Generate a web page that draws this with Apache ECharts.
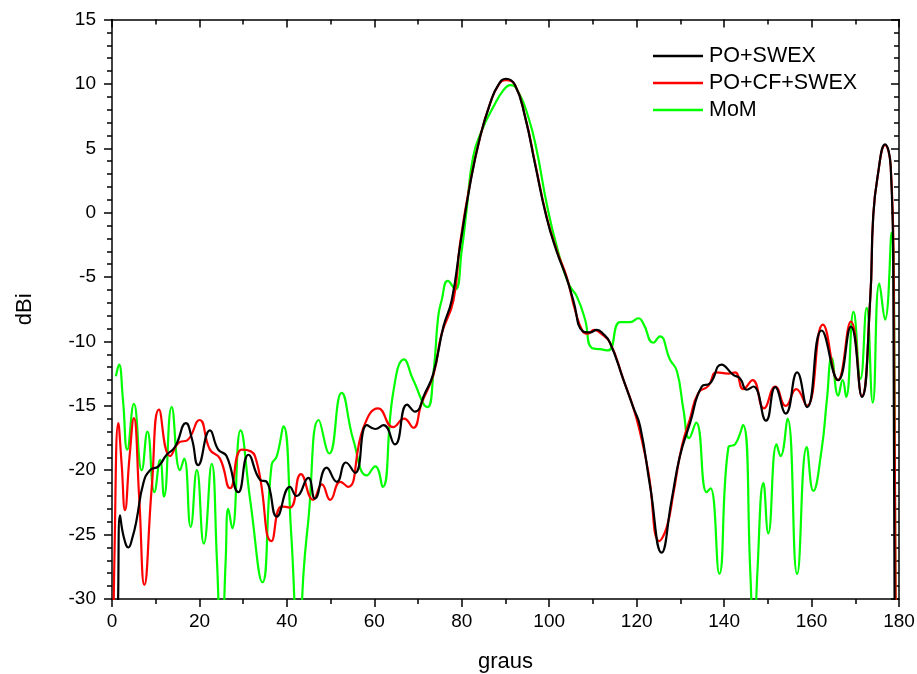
<!DOCTYPE html>
<html><head><meta charset="utf-8">
<script src="https://cdn.jsdelivr.net/npm/echarts@6/dist/echarts.min.js"></script>
<style>html,body{margin:0;padding:0;background:#fff}#c{width:917px;height:674px}</style>
</head><body><div id="c"></div>
<script>
const seriesNames = ['PO+SWEX', 'PO+CF+SWEX', 'MoM'];
const xTicks = [0, 20, 40, 60, 80, 100, 120, 140, 160, 180];
const yTicks = [-30, -25, -20, -15, -10, -5, 0, 5, 10, 15];

const poSwex = [[1.0,-40],[1.4,-30],[1.83,-23.5],[2.7,-25.2],[3.74,-26.0],[4.7,-25.2],[5.6,-23.9],[7.17,-21.0],[8.7,-20.0],[10.6,-19.7],[12.5,-18.8],[14.4,-18.2],[16.9,-16.35],[18.3,-17.6],[19.7,-19.6],[22.4,-16.9],[24.3,-18.4],[26.2,-18.9],[28.9,-21.7],[31.2,-18.8],[33.9,-20.75],[35.4,-20.9],[37.7,-23.6],[40.7,-21.3],[42.2,-22.0],[44.9,-20.6],[46.4,-22.2],[49.1,-19.8],[51.4,-20.9],[53.5,-19.4],[55.6,-20.2],[58.3,-16.5],[60.2,-16.8],[62.1,-16.5],[64.7,-18.0],[67.5,-14.9],[69.3,-15.45],[71.6,-14.0],[73.5,-12.5],[75.8,-8.85],[77.7,-6.8],[79.6,-2.6],[81.9,2.2],[84.2,5.9],[86.5,8.5],[88.4,9.95],[90.1,10.4],[92.2,9.9],[94.5,7.4],[96.8,3.7],[99.4,-0.4],[101.7,-3.0],[104.0,-5.1],[105.5,-6.8],[107.65,-9.2],[109.3,-9.3],[110.9,-9.1],[112.3,-9.4],[113.9,-10.1],[117.0,-13.0],[119.2,-15.1],[120.8,-16.6],[123.1,-21.3],[125.7,-26.4],[128.0,-22.3],[129.9,-18.9],[132.2,-16.35],[134.9,-13.5],[136.8,-13.25],[139.4,-11.8],[142.1,-12.6],[143.6,-12.85],[145.2,-13.75],[146.7,-13.5],[149.6,-16.15],[151.7,-13.55],[154.1,-15.6],[156.7,-12.4],[159.0,-15.1],[162.3,-9.15],[166.1,-13.0],[169.0,-8.85],[171.5,-14.3],[173.4,-6.8],[174.1,-0.3],[175.1,2.8],[176.8,5.3],[178.1,3.6],[178.7,-5],[179.1,-40]];

const poCfSwex = [[0.1,-40],[0.6,-26],[1.45,-16.35],[2.2,-19.5],[2.97,-23.1],[4.0,-19],[5.0,-15.96],[6.2,-22],[7.4,-28.9],[9.1,-21.3],[10.75,-15.3],[13.3,-18.9],[15.55,-17.8],[17.1,-17.7],[20.0,-16.1],[22.4,-18.4],[24.7,-19.1],[27.0,-21.4],[29.7,-18.4],[32.7,-18.9],[36.5,-25.5],[38.8,-22.8],[40.7,-22.9],[43.2,-20.3],[46.0,-22.3],[48.0,-21.1],[49.9,-22.3],[52.2,-20.9],[54.0,-21.3],[57.5,-16.7],[60.9,-15.2],[64.3,-16.65],[66.8,-16.0],[68.9,-16.7],[70.8,-14.8],[73.5,-12.6],[75.4,-9.4],[78.1,-6.8],[79.6,-2.4],[81.9,2.3],[84.2,5.9],[86.5,8.5],[88.4,9.9],[90.1,10.3],[92.2,9.9],[94.5,7.45],[96.8,3.8],[99.4,-0.3],[101.7,-2.9],[104.0,-5.0],[105.9,-7.55],[107.65,-9.2],[108.8,-9.4],[110.3,-9.1],[111.5,-9.3],[113.9,-10.1],[117.0,-13.0],[119.2,-15.1],[120.8,-17.1],[122.7,-20.2],[125.2,-25.5],[126.9,-24.4],[128.4,-21.8],[130.3,-18.2],[132.2,-16.0],[134.1,-14.0],[136.4,-13.45],[138.3,-12.4],[141.0,-12.5],[142.5,-12.4],[144.4,-13.7],[146.5,-13.0],[149.1,-15.2],[151.7,-13.5],[154.1,-15.0],[156.5,-13.7],[158.9,-15.0],[162.6,-8.7],[166.0,-13.0],[169.0,-8.45],[171.5,-14.25],[173.4,-6.8],[174.1,-0.3],[175.1,2.8],[176.8,5.25],[178.1,3.6],[178.8,-5],[179.4,-40]];

const mom = [[0.9,-12.7],[1.6,-11.8],[2.5,-14.5],[3.5,-18.4],[5.0,-14.85],[6.8,-20.0],[8.1,-17.0],[9.7,-21.7],[11.0,-19.2],[11.9,-22.05],[13.65,-15.1],[15.55,-20.0],[16.5,-19.1],[18.0,-24.4],[19.4,-20.0],[21.0,-25.7],[22.8,-19.5],[24.0,-27],[25.0,-35],[26.0,-27],[26.6,-23.0],[27.5,-24.5],[29.4,-16.9],[31.6,-22.3],[34.4,-28.7],[36.5,-19.6],[37.7,-18.9],[39.2,-16.6],[41.0,-25],[42.7,-35],[43.8,-28],[44.9,-23.9],[47.3,-16.1],[49.7,-18.7],[52.5,-14.0],[55.2,-17.65],[58.3,-20.4],[60.2,-19.7],[61.9,-21.3],[64.3,-14.0],[66.8,-11.4],[68.9,-13.0],[72.1,-15.1],[73.5,-12.5],[74.6,-8.1],[75.4,-6.8],[76.8,-5.3],[78.5,-5.95],[80.0,-2.9],[81.1,0.2],[82.6,4.35],[84.6,6.4],[87.2,8.2],[89.5,9.5],[91.2,9.9],[92.9,9.4],[95.2,7.45],[97.1,4.9],[99.4,0.73],[101.7,-2.6],[104.4,-5.5],[106.3,-6.5],[108.2,-8.3],[109.7,-10.5],[111.6,-10.6],[113.5,-10.7],[116.2,-8.5],[118.5,-8.5],[120.4,-8.2],[121.5,-8.6],[123.8,-10.1],[125.3,-9.6],[127.6,-11.4],[129.2,-12.3],[130.7,-15.3],[132.0,-17.5],[133.6,-16.3],[136.0,-21.7],[136.9,-21.4],[138.9,-28.05],[141.0,-18.2],[142.5,-18.0],[144.3,-16.5],[146.0,-28],[146.8,-35],[147.6,-28],[149.0,-21.0],[150.1,-24.9],[152.0,-18.0],[152.9,-18.9],[154.5,-16.0],[156.7,-28.05],[158.9,-18.2],[160.4,-21.6],[162.3,-18.4],[163.5,-14.55],[164.6,-11.3],[166.1,-14.2],[167.1,-13.0],[167.9,-14.3],[169.6,-7.7],[171.2,-12.9],[172.6,-7.4],[174.0,-14.75],[175.5,-5.5],[176.8,-8.3],[178.3,-1.55],[179.0,-15],[179.3,-40]];

const colors = ['#000000', '#ff0000', '#00ff00'];
const FONT = 'Liberation Sans, Arial, sans-serif';

const chart = echarts.init(document.getElementById('c'), null, {renderer: 'canvas'});
const axisLineStyle = {color: '#000', width: 1.5};
const frameTick = (inside) => ({show: true, inside: inside, length: 8, lineStyle: {color: '#000', width: 1.5}});

chart.setOption({
  animation: false,
  backgroundColor: '#fff',
  grid: {left: 112, right: 18, top: 19.5, bottom: 75, containLabel: false, outerBoundsMode: 'none'},
  legend: {
    data: seriesNames.map(n => ({name: n, icon: 'rect'})), orient: 'vertical', left: 648, top: 40,
    itemWidth: 50, itemHeight: 2.5, itemGap: 5,
    textStyle: {fontSize: 21.5, fontFamily: FONT, color: '#000', lineHeight: 21, padding: [0, 0, 0, 1]}
  },
  xAxis: [{
    type: 'value', min: xTicks[0], max: xTicks[xTicks.length - 1], interval: 20,
    position: 'bottom',
    axisLine: {show: true, onZero: false, lineStyle: axisLineStyle},
    axisTick: frameTick(false),
    minorTick: {show: true, splitNumber: 2, length: 5, lineStyle: {color: '#000', width: 1.5}},
    axisLabel: {fontSize: 19, fontFamily: FONT, color: '#000', margin: 13},
    splitLine: {show: false},
    name: 'graus', nameLocation: 'middle', nameGap: 52,
    nameTextStyle: {fontSize: 22, fontFamily: FONT, color: '#000'}
  }, {
    type: 'value', min: 0, max: 180, interval: 20, position: 'top',
    axisLine: {show: true, onZero: false, lineStyle: axisLineStyle},
    axisTick: frameTick(true),
    minorTick: {show: true, splitNumber: 2, length: 5, lineStyle: {color: '#000', width: 1.5}},
    axisLabel: {show: false}, splitLine: {show: false}
  }],
  yAxis: [{
    type: 'value', min: yTicks[0], max: yTicks[yTicks.length - 1], interval: 5,
    position: 'left',
    axisLine: {show: true, onZero: false, lineStyle: axisLineStyle},
    axisTick: frameTick(false),
    minorTick: {show: true, splitNumber: 5, length: 5, lineStyle: {color: '#000', width: 1.5}},
    axisLabel: {fontSize: 19, fontFamily: FONT, color: '#000', margin: 16},
    splitLine: {show: false},
    name: 'dBi', nameLocation: 'middle', nameGap: 76, nameRotate: 90,
    nameTextStyle: {fontSize: 22, fontFamily: FONT, color: '#000'}
  }, {
    type: 'value', min: -30, max: 15, interval: 5, position: 'right',
    axisLine: {show: true, onZero: false, lineStyle: axisLineStyle},
    axisTick: frameTick(true),
    minorTick: {show: true, splitNumber: 5, length: 5, lineStyle: {color: '#000', width: 1.5}},
    axisLabel: {show: false}, splitLine: {show: false}
  }],
  series: [
    {name: seriesNames[0], data: poSwex},
    {name: seriesNames[1], data: poCfSwex},
    {name: seriesNames[2], data: mom}
  ].map((s, i) => Object.assign(s, {
    type: 'line', xAxisIndex: 0, yAxisIndex: 0, smooth: 0.5, symbol: 'none', clip: true,
    color: colors[i], itemStyle: {color: colors[i]}, lineStyle: {color: colors[i], width: 2.2}, z: 3 - i
  }))
});
</script></body></html>
